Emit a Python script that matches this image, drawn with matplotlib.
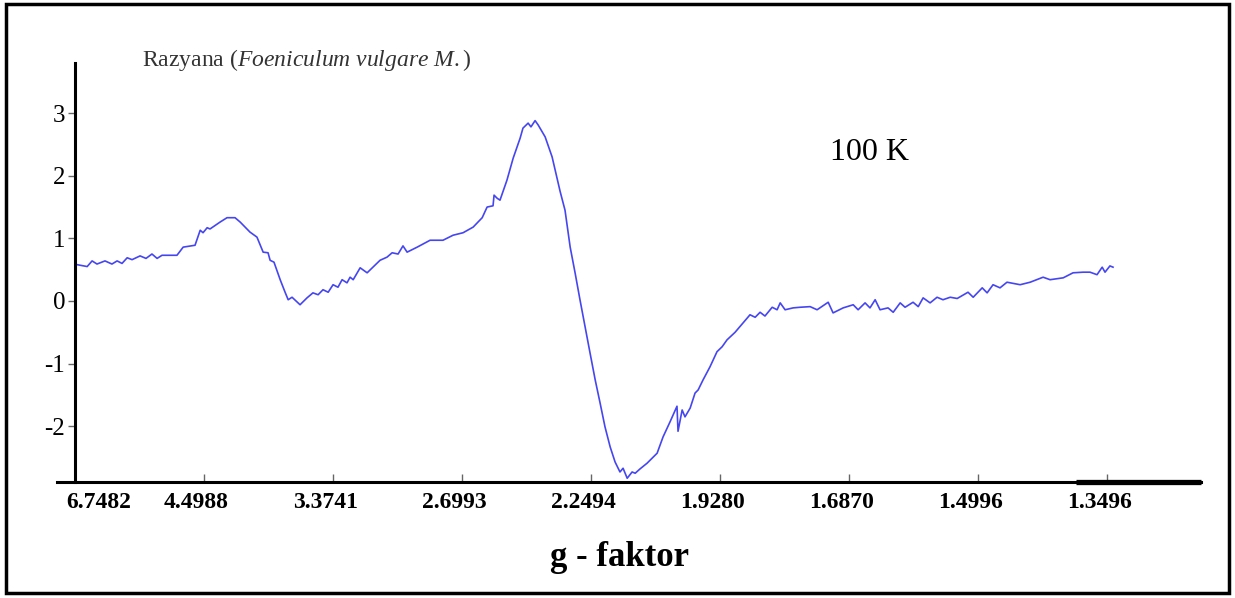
import numpy as np
import matplotlib
matplotlib.use("Agg")
import matplotlib.pyplot as plt
from matplotlib.patches import Rectangle
from matplotlib.transforms import ScaledTranslation

plt.rcParams['font.family'] = ['Liberation Serif', 'DejaVu Serif']
plt.rcParams['mathtext.fontset'] = 'custom'
plt.rcParams['mathtext.rm'] = 'Liberation Serif'
plt.rcParams['mathtext.it'] = 'Liberation Serif:italic'

# Spettro EPR: campo (G) e segnale (u.a.)
campo = [1008, 1047, 1066, 1085, 1116, 1143, 1163, 1182, 1202, 1221, 1252, 1275,
         1298, 1318, 1337, 1395, 1419, 1465, 1485, 1496, 1512, 1523, 1562, 1589,
         1620, 1640, 1678, 1705, 1729, 1748, 1756, 1771, 1795, 1814, 1826, 1841,
         1872, 1899, 1922, 1942, 1961, 1981, 2000, 2019, 2035, 2054, 2066, 2078,
         2105, 2132, 2182, 2209, 2229, 2252, 2271, 2287, 2326, 2376, 2426, 2465,
         2504, 2543, 2578, 2597, 2620, 2624, 2636, 2647, 2674, 2698, 2725, 2736,
         2756, 2767, 2783, 2795, 2822, 2849, 2880, 2899, 2919, 2938, 2957, 2977,
         2996, 3016, 3035, 3054, 3074, 3093, 3112, 3124, 3140, 3159, 3171, 3190,
         3217, 3256, 3279, 3306, 3333, 3337, 3353, 3364, 3384, 3403, 3415, 3434,
         3461, 3488, 3508, 3527, 3558, 3589, 3616, 3636, 3655, 3674, 3702, 3721,
         3733, 3752, 3783, 3810, 3849, 3876, 3919, 3938, 3977, 4016, 4035, 4062,
         4081, 4101, 4120, 4151, 4171, 4198, 4217, 4248, 4268, 4287, 4314, 4341,
         4364, 4392, 4419, 4461, 4481, 4516, 4535, 4558, 4585, 4612, 4663, 4702,
         4752, 4779, 4830, 4868, 4907, 4934, 4961, 4981, 4992, 5011, 5023]
segnale = [0.58, 0.55, 0.64, 0.59, 0.64, 0.59, 0.64, 0.60, 0.69, 0.66, 0.72, 0.68,
           0.75, 0.68, 0.73, 0.73, 0.86, 0.89, 1.13, 1.09, 1.17, 1.15, 1.26, 1.33,
           1.33, 1.26, 1.10, 1.02, 0.78, 0.77, 0.65, 0.62, 0.34, 0.14, 0.02, 0.06,
           -0.06, 0.05, 0.13, 0.10, 0.18, 0.14, 0.26, 0.22, 0.34, 0.29, 0.38, 0.34,
           0.53, 0.45, 0.65, 0.70, 0.77, 0.75, 0.88, 0.78, 0.86, 0.97, 0.97, 1.05,
           1.09, 1.18, 1.33, 1.50, 1.52, 1.69, 1.64, 1.61, 1.93, 2.28, 2.60, 2.76,
           2.84, 2.78, 2.88, 2.81, 2.62, 2.30, 1.75, 1.45, 0.86, 0.45, 0.02, -0.42,
           -0.83, -1.26, -1.63, -2.01, -2.33, -2.57, -2.73, -2.67, -2.83, -2.73, -2.75, -2.68,
           -2.59, -2.43, -2.17, -1.93, -1.68, -2.08, -1.74, -1.85, -1.71, -1.47, -1.42, -1.26,
           -1.05, -0.81, -0.73, -0.62, -0.50, -0.35, -0.22, -0.26, -0.18, -0.24, -0.10, -0.14,
           -0.03, -0.14, -0.11, -0.10, -0.09, -0.14, -0.02, -0.19, -0.11, -0.06, -0.14, -0.03,
           -0.11, 0.02, -0.14, -0.11, -0.18, -0.03, -0.10, -0.02, -0.09, 0.05, -0.03, 0.06,
           0.02, 0.06, 0.04, 0.14, 0.06, 0.21, 0.13, 0.26, 0.21, 0.30, 0.26, 0.30,
           0.38, 0.34, 0.37, 0.45, 0.46, 0.46, 0.42, 0.54, 0.46, 0.56, 0.54]

# Asse x: campo (G), etichette in fattore g
tick_campo = [1000, 1500, 2000, 2500, 3000, 3500, 4000, 4500, 5000]
tick_g = ["6.7482", "4.4988", "3.3741", "2.6993", "2.2494",
          "1.9280", "1.6870", "1.4996", "1.3496"]
tick_y = [-2, -1, 0, 1, 2, 3]

fig = plt.figure(figsize=(12.35, 5.98), dpi=100)
ax = fig.add_axes([57 / 1235, 1 - 482 / 598, 1144 / 1235, 419 / 598])

ax.plot(campo, segnale, color="#4646f0", linewidth=1.2)

ax.set_xlim(930, 5364)
ax.set_ylim(-2.89, 3.80)

for lato in ["top", "right"]:
    ax.spines[lato].set_visible(False)
ax.spines["left"].set_position(("data", 1000))
ax.spines["left"].set_linewidth(2.2)
ax.spines["bottom"].set_linewidth(2.2)
# tratto spesso a destra dell'asse x
ax.plot([0.891, 1.0], [0, 0], transform=ax.transAxes, color="k",
        linewidth=3.8, clip_on=False, solid_capstyle="butt")

ax.set_yticks(tick_y)
ax.set_yticklabels([str(v) for v in tick_y], fontsize=18)
ax.tick_params(axis="y", direction="out", length=5, width=1, color="#666666", pad=2)

ax.set_xticks(tick_campo)
ax.set_xticklabels(tick_g, fontsize=17, fontweight="bold")
ax.tick_params(axis="x", direction="in", length=6, width=1, color="#666666", pad=7)

for i, lbl in enumerate(ax.get_xticklabels()):
    dx = 24 / 100 if i == 0 else -8 / 100
    lbl.set_transform(lbl.get_transform() + ScaledTranslation(dx, 0, fig.dpi_scale_trans))

fig.text(142 / 1235, 1 - 60 / 598, r"Razyana ($\mathit{Foeniculum\ vulgare\ M.}$)",
         fontsize=17, color="#333333", ha="left", va="center")
fig.text(830 / 1235, 1 - 152 / 598, "100 K", fontsize=23, ha="left", va="center")
fig.text(619 / 1235, 1 - 557 / 598, "g - faktor", fontsize=25, fontweight="bold",
         ha="center", va="center")

fig.add_artist(Rectangle((6 / 1235, 5 / 598), 1223 / 1235, 589 / 598,
                         transform=fig.transFigure, fill=False, linewidth=2.5,
                         edgecolor="k"))

plt.savefig("out.png", dpi=100)
